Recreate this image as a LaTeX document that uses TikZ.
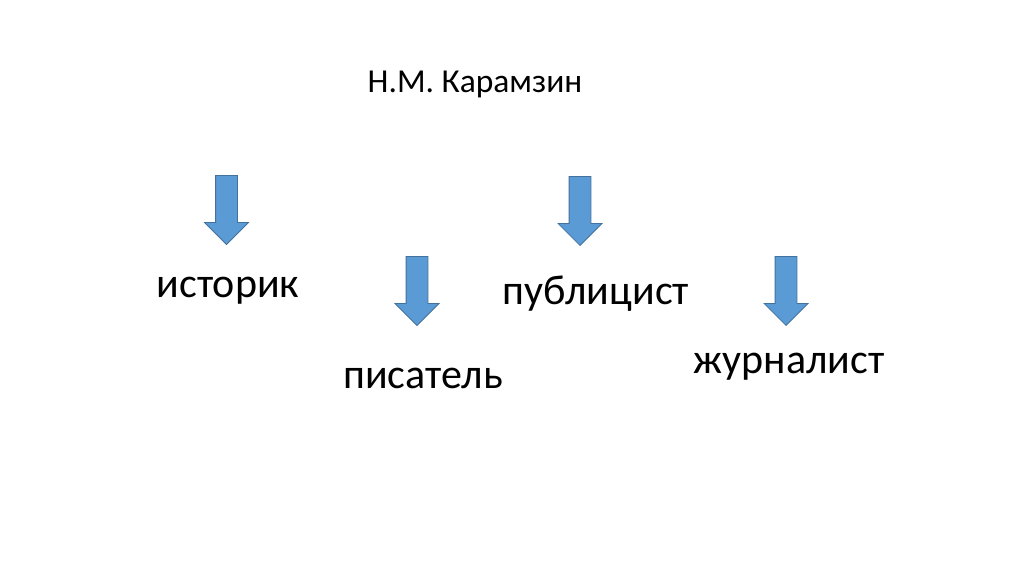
\documentclass[tikz,border=0pt]{standalone}
\usepackage{fontspec}
\setmainfont{Carlito}
\usetikzlibrary{shapes.arrows}
\definecolor{arrowfill}{HTML}{5B9BD5}
\definecolor{arrowline}{HTML}{41719C}
\tikzset{DownArrow/.style={single arrow, draw = arrowline, fill = arrowfill, line width = 0.8pt,
                           minimum width=43pt, minimum height=69pt, inner sep=10.5pt,
                           single arrow head extend=11pt, shape border rotate=270, anchor=tip}}
\begin{document}
\begin{tikzpicture}[x=1pt, y=-1pt,
                    title_label/.style = {font = \fontsize{33.5}{36}\selectfont, anchor = base, inner sep = 0pt},
                    word_label/.style = {font = \fontsize{42}{46}\selectfont, anchor = base, inner sep = 0pt}]
    \useasboundingbox[fill = white] (0,0) rectangle (1024,574);
    %title
    \node[title_label] (karamzin) at (475,92) {Н.М. Карамзин};
    %arrows
    \node[DownArrow] (arrowIst) at (226.5,245) {};
    \node[DownArrow] (arrowPub) at (580,246) {};
    \node[DownArrow] (arrowPis) at (417,326) {};
    \node[DownArrow] (arrowZhur) at (786,326) {};
    %labels
    \node[word_label] (istorik) at (228,297) {историк};
    \node[word_label] (pisatel) at (423,388) {писатель};
    \node[word_label] (publicist) at (596,304) {публицист};
    \node[word_label] (zhurnalist) at (789,373) {журналист};
\end{tikzpicture}
\end{document}
